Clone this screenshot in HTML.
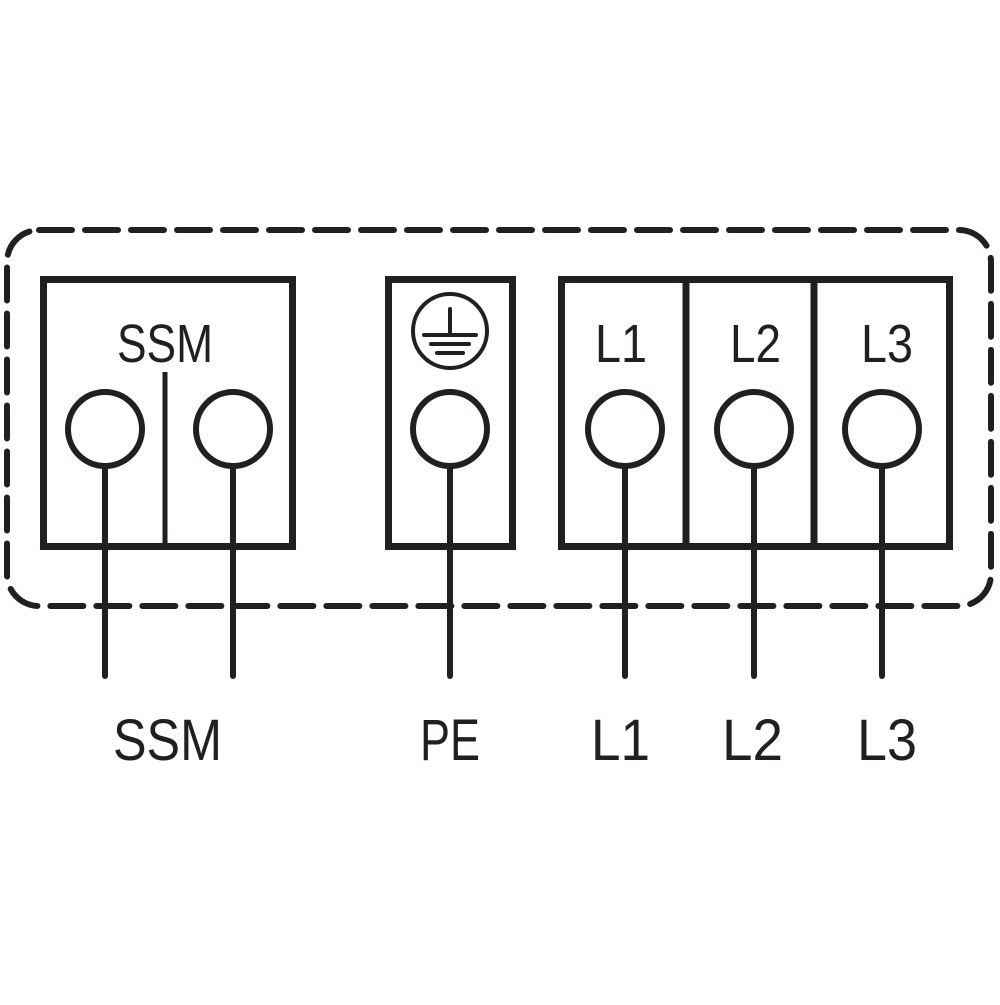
<!DOCTYPE html>
<html><head><style>html,body{margin:0;padding:0;background:#fff}</style></head>
<body>
<svg width="1000" height="1000" viewBox="0 0 1000 1000" xmlns="http://www.w3.org/2000/svg">
<g fill="none" stroke="#231f20">
<rect x="7" y="230" width="984" height="376" rx="32" stroke-width="6" stroke-dasharray="33 13" stroke-linecap="round"/>
<g stroke-width="7">
<rect x="43.5" y="279.5" width="249" height="267"/>
<rect x="388.5" y="279.5" width="124" height="267"/>
<rect x="561.5" y="279.5" width="388" height="267"/>
<line x1="686" y1="279" x2="686" y2="547"/>
<line x1="814" y1="279" x2="814" y2="547"/>
</g>
<line x1="165" y1="372" x2="165" y2="547" stroke-width="5"/>
<g stroke-width="6">
<circle cx="105" cy="429" r="37"/>
<circle cx="233" cy="429" r="37"/>
<circle cx="450" cy="429" r="37"/>
<circle cx="625" cy="429" r="37"/>
<circle cx="754" cy="429" r="37"/>
<circle cx="882" cy="429" r="37"/>
<g stroke-linecap="round">
<line x1="105" y1="466" x2="105" y2="676"/>
<line x1="233" y1="466" x2="233" y2="676"/>
<line x1="450" y1="466" x2="450" y2="676"/>
<line x1="625" y1="466" x2="625" y2="676"/>
<line x1="754" y1="466" x2="754" y2="676"/>
<line x1="882" y1="466" x2="882" y2="676"/>
</g>
</g>
<circle cx="450" cy="331" r="37" stroke-width="4"/>
<g stroke-width="4" stroke-linecap="round">
<line x1="450" y1="309" x2="450" y2="335"/>
<line x1="424" y1="335" x2="476" y2="335"/>
<line x1="431" y1="344" x2="469" y2="344"/>
<line x1="437" y1="353" x2="463" y2="353"/>
</g>
</g>
<g fill="#231f20" font-family="Liberation Sans, sans-serif">
<g font-size="54">
<text x="117" y="362" textLength="96" lengthAdjust="spacingAndGlyphs">SSM</text>
<text x="595" y="362" textLength="52" lengthAdjust="spacingAndGlyphs">L1</text>
<text x="730" y="362" textLength="51" lengthAdjust="spacingAndGlyphs">L2</text>
<text x="861" y="362" textLength="52" lengthAdjust="spacingAndGlyphs">L3</text>
</g>
<g font-size="58">
<text x="113" y="760" textLength="109" lengthAdjust="spacingAndGlyphs">SSM</text>
<text x="420" y="760" textLength="60" lengthAdjust="spacingAndGlyphs">PE</text>
<text x="591" y="760" textLength="59" lengthAdjust="spacingAndGlyphs">L1</text>
<text x="722" y="760" textLength="61" lengthAdjust="spacingAndGlyphs">L2</text>
<text x="857" y="760" textLength="60" lengthAdjust="spacingAndGlyphs">L3</text>
</g>
</g>
</svg>
</body></html>
